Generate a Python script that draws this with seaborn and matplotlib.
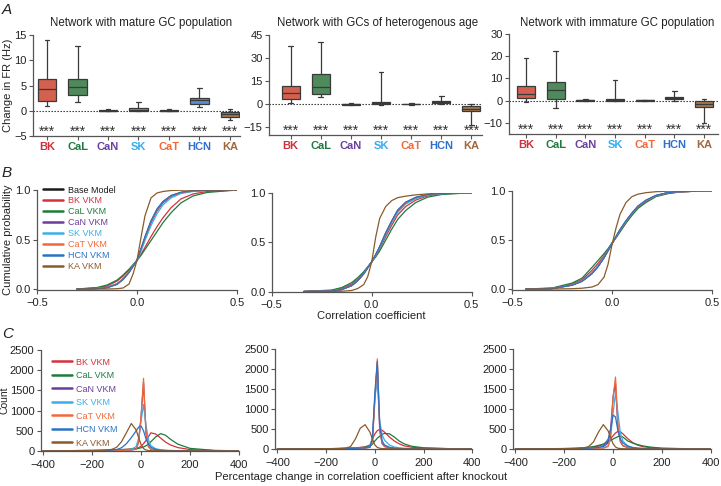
import matplotlib
matplotlib.use('Agg')
import numpy as np
import pandas as pd
import seaborn as sns
import matplotlib.pyplot as plt
from matplotlib import transforms


channels = ['BK', 'CaL', 'CaN', 'SK', 'CaT', 'HCN', 'KA']
panel_titles = ['Network with mature GC population',
                'Network with GCs of heterogenous age',
                'Network with immature GC population']

# box summaries: [low whisker, q1, median, q3, high whisker]
fr_mature = [[0.9, 1.9, 4.4, 6.2, 14.0],
             [1.65, 3.05, 4.8, 6.2, 12.9],
             [-0.05, 0.0, 0.02, 0.05, 0.3],
             [0.0, 0.03, 0.1, 0.5, 1.65],
             [-0.05, 0.0, 0.02, 0.05, 0.3],
             [0.75, 1.25, 2.1, 2.6, 4.6],
             [-1.9, -1.25, -0.7, -0.2, 0.25]]
fr_hetero = [[0.7, 3.5, 7.4, 11.8, 38.0],
             [4.4, 6.6, 11.4, 19.9, 40.6],
             [-0.5, -0.3, 0.0, 0.4, 0.9],
             [-0.3, 0.0, 0.7, 1.5, 20.7],
             [-0.3, 0.0, 0.1, 0.3, 0.6],
             [0.2, 0.7, 1.5, 2.2, 5.2],
             [-13.8, -4.6, -3.1, -1.1, 0.4]]
fr_immature = [[-0.6, 1.1, 3.0, 6.5, 19.2],
               [-3.3, 0.9, 4.7, 8.2, 22.4],
               [-0.2, 0.0, 0.1, 0.3, 0.75],
               [-0.3, 0.0, 0.3, 0.6, 9.2],
               [-0.2, 0.0, 0.1, 0.2, 0.4],
               [0.0, 0.6, 1.2, 1.7, 4.4],
               [-10.2, -2.9, -1.5, 0.0, 0.75]]
fr_ticks = [[-5, 0, 5, 10, 15], [-15, 0, 15, 30, 45], [-10, 0, 10, 20, 30]]
fr_limits = [(-5, 15), (-20, 45), (-15, 30)]

# panel B: cumulative probability curves (order: base, BK, CaL, CaN, SK, CaT, HCN, KA)
cdf_labels = ['Base Model', 'BK VKM', 'CaL VKM', 'CaN VKM', 'SK VKM', 'CaT VKM', 'HCN VKM', 'KA VKM']
cdf_x_mature = [-0.30, -0.2, -0.15, -0.1, -0.07, -0.04, -0.02, 0.0, 0.02, 0.04, 0.07, 0.1, 0.13, 0.17, 0.22, 0.28, 0.35, 0.5]
cdf_mature = [
    [0.0, 0.005, 0.015, 0.05, 0.10, 0.17, 0.23, 0.29, 0.40, 0.52, 0.68, 0.80, 0.88, 0.94, 0.975, 0.99, 0.997, 1.0],
    [0.0, 0.01, 0.03, 0.08, 0.13, 0.19, 0.24, 0.29, 0.35, 0.42, 0.53, 0.63, 0.72, 0.82, 0.91, 0.96, 0.985, 1.0],
    [0.0, 0.015, 0.04, 0.09, 0.14, 0.20, 0.245, 0.29, 0.34, 0.40, 0.49, 0.58, 0.67, 0.77, 0.87, 0.94, 0.975, 1.0],
    [0.0, 0.005, 0.015, 0.05, 0.10, 0.17, 0.23, 0.29, 0.40, 0.51, 0.67, 0.79, 0.87, 0.935, 0.972, 0.99, 0.997, 1.0],
    [0.0, 0.006, 0.018, 0.055, 0.105, 0.175, 0.232, 0.29, 0.38, 0.49, 0.64, 0.76, 0.85, 0.92, 0.965, 0.985, 0.995, 1.0],
    [0.0, 0.005, 0.015, 0.05, 0.10, 0.17, 0.23, 0.29, 0.40, 0.52, 0.68, 0.80, 0.88, 0.94, 0.975, 0.99, 0.997, 1.0],
    [0.0, 0.004, 0.013, 0.045, 0.095, 0.165, 0.228, 0.29, 0.41, 0.53, 0.69, 0.81, 0.885, 0.945, 0.978, 0.992, 0.998, 1.0],
    [0.0, 0.0, 0.0, 0.003, 0.01, 0.05, 0.15, 0.29, 0.52, 0.74, 0.92, 0.97, 0.985, 0.995, 0.998, 1.0, 1.0, 1.0]]
cdf_x_hetero = [-0.34, -0.2, -0.15, -0.1, -0.07, -0.04, -0.02, 0.0, 0.02, 0.04, 0.07, 0.1, 0.13, 0.17, 0.22, 0.28, 0.35, 0.5]
cdf_hetero = [
    [0.0, 0.005, 0.02, 0.06, 0.11, 0.18, 0.24, 0.30, 0.37, 0.45, 0.59, 0.71, 0.82, 0.90, 0.95, 0.98, 0.993, 1.0],
    [0.0, 0.01, 0.03, 0.075, 0.125, 0.19, 0.245, 0.30, 0.36, 0.43, 0.555, 0.67, 0.775, 0.86, 0.925, 0.968, 0.988, 1.0],
    [0.0, 0.015, 0.04, 0.09, 0.14, 0.20, 0.25, 0.30, 0.35, 0.41, 0.52, 0.63, 0.73, 0.82, 0.90, 0.955, 0.982, 1.0],
    [0.0, 0.005, 0.02, 0.06, 0.11, 0.18, 0.24, 0.30, 0.37, 0.45, 0.585, 0.705, 0.815, 0.895, 0.948, 0.978, 0.992, 1.0],
    [0.0, 0.006, 0.022, 0.063, 0.113, 0.182, 0.242, 0.30, 0.365, 0.44, 0.575, 0.695, 0.80, 0.885, 0.94, 0.975, 0.99, 1.0],
    [0.0, 0.005, 0.02, 0.06, 0.11, 0.18, 0.24, 0.30, 0.37, 0.45, 0.59, 0.71, 0.82, 0.90, 0.95, 0.98, 0.993, 1.0],
    [0.0, 0.005, 0.02, 0.06, 0.11, 0.18, 0.24, 0.30, 0.375, 0.455, 0.595, 0.715, 0.825, 0.905, 0.953, 0.982, 0.994, 1.0],
    [0.0, 0.001, 0.003, 0.01, 0.03, 0.07, 0.15, 0.30, 0.55, 0.74, 0.86, 0.92, 0.95, 0.965, 0.978, 0.988, 0.995, 1.0]]
cdf_x_immature = [-0.43, -0.3, -0.2, -0.15, -0.1, -0.07, -0.04, -0.02, 0.0, 0.02, 0.04, 0.07, 0.1, 0.13, 0.17, 0.22, 0.28, 0.35, 0.5]
cdf_immature = [
    [0.0, 0.005, 0.04, 0.08, 0.16, 0.23, 0.32, 0.39, 0.46, 0.53, 0.60, 0.69, 0.77, 0.84, 0.90, 0.95, 0.98, 0.99, 1.0],
    [0.0, 0.007, 0.05, 0.095, 0.19, 0.26, 0.34, 0.40, 0.465, 0.525, 0.59, 0.68, 0.76, 0.83, 0.89, 0.945, 0.975, 0.99, 1.0],
    [0.0, 0.01, 0.06, 0.11, 0.22, 0.29, 0.36, 0.41, 0.47, 0.52, 0.58, 0.67, 0.75, 0.82, 0.88, 0.94, 0.97, 0.99, 1.0],
    [0.0, 0.005, 0.04, 0.08, 0.16, 0.23, 0.32, 0.39, 0.46, 0.53, 0.60, 0.69, 0.77, 0.84, 0.90, 0.95, 0.98, 0.99, 1.0],
    [0.0, 0.005, 0.042, 0.083, 0.165, 0.235, 0.325, 0.393, 0.462, 0.53, 0.598, 0.688, 0.768, 0.838, 0.898, 0.948, 0.978, 0.99, 1.0],
    [0.0, 0.005, 0.04, 0.08, 0.16, 0.23, 0.32, 0.39, 0.46, 0.53, 0.60, 0.69, 0.77, 0.84, 0.90, 0.95, 0.98, 0.99, 1.0],
    [0.0, 0.004, 0.038, 0.077, 0.155, 0.225, 0.315, 0.388, 0.46, 0.535, 0.605, 0.695, 0.775, 0.845, 0.905, 0.953, 0.981, 0.992, 1.0],
    [0.0, 0.0, 0.003, 0.008, 0.02, 0.045, 0.12, 0.25, 0.45, 0.62, 0.76, 0.88, 0.94, 0.965, 0.98, 0.99, 0.995, 1.0, 1.0]]

# panel C: counts of percentage change (order: BK, CaL, CaN, SK, CaT, HCN, KA)
pct_labels = ['BK VKM', 'CaL VKM', 'CaN VKM', 'SK VKM', 'CaT VKM', 'HCN VKM', 'KA VKM']
pct_x = [-400, -300, -200, -150, -120, -100, -80, -60, -40, -20, -10, 0, 10, 20, 30, 40, 60, 80, 100, 120, 150, 200, 300, 400]
count_mature = [
    [5, 8, 15, 20, 25, 30, 35, 40, 50, 60, 80, 120, 180, 260, 350, 450, 420, 320, 220, 150, 85, 35, 10, 5],
    [5, 8, 15, 20, 25, 30, 35, 40, 45, 55, 65, 80, 100, 130, 170, 230, 350, 430, 390, 290, 170, 65, 15, 5],
    [3, 5, 8, 10, 12, 15, 18, 20, 25, 45, 220, 850, 1700, 450, 110, 45, 20, 12, 8, 6, 5, 3, 2, 2],
    [3, 5, 8, 10, 12, 15, 18, 25, 45, 110, 320, 750, 1150, 650, 280, 130, 55, 30, 20, 14, 10, 7, 4, 3],
    [3, 5, 8, 10, 12, 15, 18, 20, 25, 50, 220, 850, 1800, 480, 120, 50, 22, 12, 8, 6, 5, 3, 2, 2],
    [3, 5, 8, 12, 20, 35, 80, 180, 330, 500, 590, 620, 500, 300, 170, 90, 40, 20, 12, 8, 6, 4, 3, 2],
    [3, 5, 8, 12, 40, 90, 230, 450, 680, 520, 330, 160, 60, 25, 12, 8, 5, 4, 3, 3, 2, 2, 2, 2]]
count_hetero = [
    [3, 5, 8, 12, 15, 20, 30, 40, 55, 100, 250, 380, 460, 495, 470, 420, 300, 200, 130, 80, 45, 20, 8, 5],
    [3, 5, 8, 12, 15, 20, 25, 35, 45, 70, 120, 200, 270, 320, 370, 390, 380, 300, 200, 130, 70, 30, 10, 5],
    [3, 5, 8, 10, 12, 15, 18, 20, 25, 45, 220, 1300, 2150, 450, 130, 60, 25, 14, 8, 6, 5, 3, 2, 2],
    [3, 5, 8, 10, 12, 15, 18, 22, 30, 60, 300, 1300, 1690, 700, 350, 220, 100, 50, 30, 20, 12, 8, 4, 3],
    [3, 5, 8, 10, 12, 15, 18, 20, 25, 40, 200, 1200, 2260, 500, 150, 70, 30, 15, 8, 6, 5, 3, 2, 2],
    [3, 5, 8, 10, 12, 15, 18, 22, 30, 50, 250, 1400, 2200, 600, 200, 100, 45, 22, 12, 8, 5, 3, 2, 2],
    [3, 5, 8, 10, 20, 60, 250, 520, 610, 420, 250, 100, 40, 20, 10, 8, 5, 4, 3, 3, 2, 2, 2, 2]]
count_immature = [
    [3, 5, 10, 15, 20, 25, 40, 70, 120, 200, 260, 330, 400, 440, 430, 380, 260, 160, 100, 60, 35, 15, 5, 3],
    [3, 6, 12, 20, 30, 45, 60, 90, 120, 170, 210, 250, 280, 310, 320, 300, 200, 150, 110, 80, 50, 20, 8, 4],
    [3, 5, 8, 10, 12, 15, 20, 30, 60, 150, 500, 1300, 1650, 500, 180, 80, 35, 18, 10, 7, 5, 3, 2, 2],
    [3, 5, 8, 10, 12, 15, 20, 25, 30, 80, 300, 900, 1400, 900, 400, 200, 80, 40, 25, 15, 10, 6, 3, 2],
    [3, 5, 8, 10, 12, 15, 18, 22, 20, 60, 300, 1300, 1800, 600, 200, 90, 40, 20, 10, 7, 5, 3, 2, 2],
    [3, 5, 8, 10, 15, 20, 30, 40, 80, 250, 500, 850, 800, 450, 250, 150, 70, 35, 20, 12, 8, 5, 3, 2],
    [3, 5, 8, 10, 25, 60, 180, 420, 610, 450, 280, 130, 50, 20, 10, 7, 5, 4, 3, 3, 2, 2, 2, 2]]

box_fill = ['#d4604f', '#4f8a5c', '#7a55a8', '#4aa6dc', '#ee7a52', '#5a8fd8', '#a47a52']
label_colors = ['#d1303a', '#1e7a3e', '#6b3fa0', '#35aef0', '#f2683a', '#2d6fcc', '#a0683c']
line_colors = ['#1a1a1a', '#d6303b', '#1e7b3c', '#6a3d9a', '#38aeea', '#f2683a', '#2b72c4', '#8b5a2b']

W, H = 721.0, 486.0
spine_color = '#555555'


def add_axes(fig, left, top, right, bottom):
    return fig.add_axes([left / W, 1 - bottom / H, (right - left) / W, (bottom - top) / H])


def style_axes(ax, xpad):
    sns.despine(ax=ax)
    for side in ['left', 'bottom']:
        ax.spines[side].set_color(spine_color)
        ax.spines[side].set_linewidth(0.9)
    ax.tick_params(axis='both', length=3, width=0.8, color=spine_color, labelsize=8, labelcolor='#222222')
    ax.tick_params(axis='x', pad=xpad)
    ax.tick_params(axis='y', pad=1.5)
    ax.set_facecolor('none')


sns.set_style('ticks')
plt.rcParams['font.family'] = ['Liberation Sans', 'DejaVu Sans']

fig = plt.figure(figsize=(7.21, 4.86), dpi=100)

# ---- panel A: box plots of firing rate change
a_boxes = [(33, 35, 240, 136), (269, 35, 482, 135), (509, 34, 718, 134)]
a_xlims = [(-0.46, 6.33), (-0.72, 6.35), (-0.57, 6.47)]
a_title_pos = [(0.522, 1.122), (0.512, 1.123), (0.517, 1.113)]
for k, fr in enumerate([fr_mature, fr_hetero, fr_immature]):
    ax = add_axes(fig, *a_boxes[k])
    rows = [(ch, v) for ch, vals in zip(channels, fr) for v in vals]
    df = pd.DataFrame(rows, columns=['channel', 'fr'])
    ax.axhline(0, color='#222222', lw=0.8, ls=(0, (1.2, 1.5)), zorder=0.5)
    sns.boxplot(data=df, x='channel', y='fr', hue='channel', order=channels, hue_order=channels,
                palette=box_fill, saturation=1, width=0.6, whis=(0, 100), linewidth=0.9,
                linecolor='#3a3a3a', fliersize=0, legend=False, ax=ax, capwidths=0.16)
    ax.set_xlim(*a_xlims[k])
    ax.set_ylim(*fr_limits[k])
    ax.set_yticks(fr_ticks[k])
    ax.set_xlabel('')
    ax.set_ylabel('')
    style_axes(ax, 1.5)
    for lab, c in zip(ax.get_xticklabels(), label_colors):
        lab.set_color(c)
        lab.set_fontweight('bold')
        lab.set_fontsize(8)
    trans = transforms.blended_transform_factory(ax.transData, ax.transAxes)
    for i in range(len(channels)):
        ax.text(i, 0.0, '***', transform=trans, ha='center', va='baseline', fontsize=10, color='#333333')
    ax.text(a_title_pos[k][0], a_title_pos[k][1], panel_titles[k], transform=ax.transAxes,
            ha='center', va='center', fontsize=8.3, color='#222222')
    if k == 0:
        ax.set_ylabel('Change in FR (Hz)', fontsize=8, color='#222222')
        ax.yaxis.set_label_coords(-0.097, 0.5)

# ---- panel B: cumulative distributions
b_boxes = [(37, 190, 237, 289.5), (271.7, 192.7, 471.7, 292), (512, 190.7, 712, 289.5)]
b_sets = [(cdf_x_mature, cdf_mature), (cdf_x_hetero, cdf_hetero), (cdf_x_immature, cdf_immature)]
for k, (xs, curves) in enumerate(b_sets):
    ax = add_axes(fig, *b_boxes[k])
    for j, ys in enumerate(curves):
        sns.lineplot(x=xs, y=ys, color=line_colors[j], lw=0.9, ax=ax,
                     label=cdf_labels[j] if k == 0 else None, legend=False)
    ax.set_xlim(-0.5, 0.5)
    ax.set_ylim(-0.005, 1.0)
    ax.set_xticks([-0.5, 0.0, 0.5])
    ax.set_yticks([0.0, 0.5, 1.0])
    ax.set_xticklabels(['\u22120.5', '0.0', '0.5'])
    ax.set_yticklabels(['0.0', '0.5', '1.0'])
    style_axes(ax, 3)
    if k == 0:
        ax.set_ylabel('Cumulative probability', fontsize=8, color='#222222')
        ax.yaxis.set_label_coords(-0.12, 0.5)
        handles, labels = ax.get_legend_handles_labels()
        leg = fig.legend(handles, labels, loc='upper left', bbox_to_anchor=(43 / W, 1 - 185.5 / H),
                         frameon=False, fontsize=6.5, handlelength=2.2, handletextpad=0.55,
                         labelspacing=0.22, borderpad=0, borderaxespad=0)
        for txt, c in zip(leg.get_texts(), line_colors):
            txt.set_color(c)
        for ln in leg.get_lines():
            ln.set_linewidth(1.8)
    if k == 1:
        ax.set_xlabel('Correlation coefficient', fontsize=8, color='#222222')
        ax.xaxis.set_label_coords(0.5, -0.19)

# ---- panel C: percentage change histograms
c_boxes = [(40.7, 350, 239, 451), (275, 349.3, 472.3, 449), (513, 349, 710.7, 449)]
for k, counts in enumerate([count_mature, count_hetero, count_immature]):
    ax = add_axes(fig, *c_boxes[k])
    for j, ys in enumerate(counts):
        sns.lineplot(x=pct_x, y=ys, color=line_colors[j + 1], lw=0.9, ax=ax,
                     label=pct_labels[j] if k == 0 else None, legend=False)
    ax.set_xlim(-410, 400)
    ax.set_ylim(0, 2500)
    ax.set_xticks([-400, -200, 0, 200, 400])
    ax.set_yticks([0, 500, 1000, 1500, 2000, 2500])
    style_axes(ax, 3.5)
    if k == 0:
        ax.set_ylabel('Count', fontsize=7.5, color='#222222')
        ax.yaxis.set_label_coords(-0.155, 0.5)
        handles, labels = ax.get_legend_handles_labels()
        leg = fig.legend(handles, labels, loc='upper left', bbox_to_anchor=(52 / W, 1 - 357.5 / H),
                         frameon=False, fontsize=6.5, handlelength=2.2, handletextpad=0.45,
                         labelspacing=0.5, borderpad=0, borderaxespad=0)
        for txt, c in zip(leg.get_texts(), line_colors[1:]):
            txt.set_color(c)
        for ln in leg.get_lines():
            ln.set_linewidth(1.8)

fig.text(361 / W, 1 - 477 / H, 'Percentage change in correlation coefficient after knockout',
         ha='center', va='center', fontsize=8, color='#222222')

for letter, ypix in [('A', 9.5), ('B', 173), ('C', 334)]:
    fig.text(2 / W, 1 - ypix / H, letter, fontsize=11, style='italic', ha='left', va='center', color='#222222')

fig.savefig('out.png', dpi=100)
